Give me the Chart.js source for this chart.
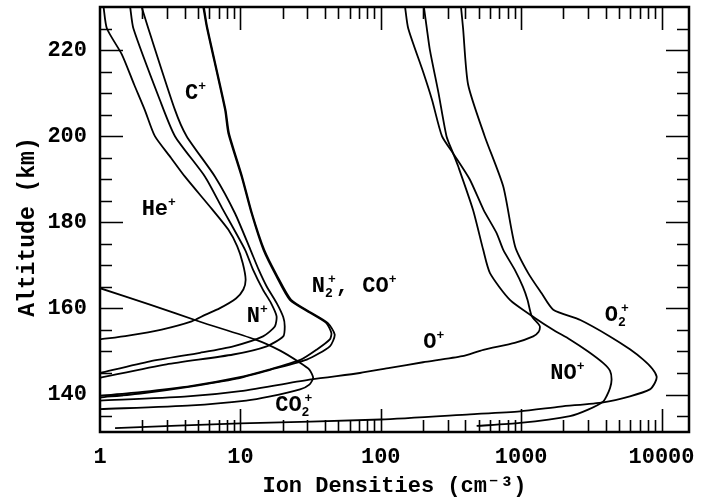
<!DOCTYPE html>
<html>
<head>
<meta charset="utf-8">
<script src="https://cdn.jsdelivr.net/npm/chart.js@4.4.0/dist/chart.umd.min.js"></script>
<style>
  html, body { margin: 0; padding: 0; background: #fff; }
</style>
</head>
<body>
<canvas id="chart" width="711" height="502"></canvas>
<script>
// Ion density profiles, altitude (km) vs density (cm^-3)
const heAlt  = [230, 225, 219, 212, 206, 200, 195, 190.6, 183, 178.3, 174.4, 170.5, 166.7, 164.4, 162.3, 160, 158.5, 157, 155.1, 153.7, 152.8];
const heDen  = [1.06, 1.12, 1.43, 1.75, 2.09, 2.46, 3.2, 4.03, 6.3, 8.2, 9.5, 10.4, 10.9, 10.5, 9.3, 7.1, 5.6, 4.5, 2.75, 1.59, 1.0];

const nAlt   = [230, 225, 208.4, 200, 190.6, 183, 173.6, 169, 164.3, 161.3, 158.2, 155.8, 153.5, 151.2, 149.7, 147.7, 145];
const nDen   = [1.64, 1.73, 2.67, 3.42, 5.6, 7.5, 10.8, 12.3, 14.5, 16.5, 18.1, 17.6, 14.5, 8.9, 5.16, 2.27, 1.0];

const cAlt   = [230, 225, 206.1, 200, 190.6, 182.1, 173.6, 169, 165.1, 161.3, 158, 155.8, 153.5, 151.2, 149.3, 147, 143.9];
const cDen   = [1.98, 2.21, 3.42, 4.14, 6.6, 9.15, 11.8, 13.5, 15.4, 18.1, 20.2, 20.7, 20.2, 15.4, 8.9, 2.98, 1.0];

const n2Alt  = [230, 225.4, 206.1, 200.7, 190.6, 182.1, 173.6, 167.4, 162, 159, 156.6, 154.3, 152.8, 150.4, 148.1, 145.8, 143.9, 142, 140.6, 139.7];
const n2Den  = [5.44, 5.75, 7.77, 8.2, 10.2, 12.0, 14.6, 18.1, 22.5, 31.3, 41, 44.5, 43.4, 34.9, 27, 16, 9.5, 4.5, 2.0, 1.0];

const coAlt  = [230, 225.4, 206.1, 200.7, 190.6, 182.1, 173.6, 167.4, 162, 159, 156.6, 153.9, 151.2, 148.1, 145.8, 143.7, 141.8, 140.3, 139.3];
const coDen  = [5.5, 5.8, 7.85, 8.3, 10.3, 12.1, 14.8, 18.4, 23, 32, 42, 47, 43.4, 29.7, 16.5, 9.4, 4.3, 2.0, 1.0];

const oAlt   = [230, 225, 215, 208.4, 200, 196, 190, 182.9, 177.5, 173.6, 169, 165, 162, 158.2, 156.5, 155.8, 154.5, 153.5, 152, 150.4, 148.9, 147.5, 146.2, 145, 143.5, 140.8, 139.5, 138.6];
const oDen   = [149, 157, 200, 232, 273, 328, 430, 540, 669, 746, 900, 1030, 1110, 1190, 1320, 1361, 1330, 1219, 900, 538, 380, 200, 116, 71, 32, 10, 4, 1];

const noAlt  = [230, 225, 220, 210, 200, 196, 193, 182.9, 173.6, 168.2, 162, 157.8, 155, 152.8, 150, 147.3, 145.5, 143.5, 141.5, 139.6, 138.4, 136.5, 135, 133.4, 132.7];
const noDen  = [203, 213, 224, 258, 294, 328, 356, 454, 537, 600, 832, 1254, 1700, 2225, 3000, 3850, 4300, 4410, 4300, 4060, 3850, 3000, 2225, 981, 482];

const o2Alt  = [230, 225, 212, 200, 188.3, 174.4, 168.2, 163.5, 159.7, 157.3, 153.5, 150.5, 148.1, 146, 144.2, 142.8, 141.2, 139.6, 138.2, 137.2, 136.1, 135.4, 134.2, 133.3, 132.2];
const o2Den  = [373, 386, 419, 550, 746, 906, 1123, 1400, 1694, 2640, 4290, 5960, 7410, 8600, 9230, 9000, 8270, 5960, 3850, 1900, 981, 432, 100, 10, 1.28];

const co2Alt = [164.7, 160.9, 156.9, 152.8, 150.2, 147.4, 145.8, 143.9, 142.3, 141.2, 139.5, 138.6, 137.5, 136.6];
const co2Den = [1.0, 2.27, 5.16, 12.7, 19.2, 26.6, 31, 33, 31, 26.6, 16, 11, 4.5, 1.0];

// axis ticks
const xTicks = [1, 10, 100, 1000, 10000];
const yTicks = [140, 160, 180, 200, 220];

// species labels placed in data coordinates (density, altitude)
const ionLabels = [
    { text: 'C^+',         x: 4.03, y: 208.6 },
    { text: 'He^+',        x: 1.98, y: 181.6 },
    { text: 'N^+',         x: 11.1, y: 156.8 },
    { text: 'N_2^+, CO^+', x: 32.3, y: 163.8 },
    { text: 'O^+',         x: 201,  y: 150.8 },
    { text: 'NO^+',        x: 1612, y: 143.6 },
    { text: 'O_2^+',       x: 3940, y: 157.0 },
    { text: 'CO_2^+',      x: 17.7, y: 136.2 }
];

const FONT = "'Liberation Mono', 'DejaVu Sans Mono', monospace";

function profile(alt, den) {
    return alt.map((a, i) => ({ x: den[i], y: a }));
}

function line(alt, den) {
    return {
        data: profile(alt, den),
        showLine: true,
        borderColor: '#000',
        borderWidth: 1.8,
        pointRadius: 0,
        tension: 0.22,
        fill: false
    };
}

// draw text with ^x superscripts and _x subscripts
function drawRich(ctx, str, x, y) {
    let cx = x, subStart = null;
    for (let i = 0; i < str.length; i++) {
        const ch = str[i];
        if (ch === '^' || ch === '_') {
            const c = str[++i];
            ctx.font = 'bold 13px ' + FONT;
            if (ch === '_') {
                subStart = cx;
                ctx.fillText(c, cx, y + 5);
                cx += ctx.measureText(c).width;
            } else {
                const sx = subStart !== null ? subStart + 3 : cx;
                ctx.fillText(c, sx, y - 9);
                cx = Math.max(cx, sx + ctx.measureText(c).width);
                subStart = null;
            }
        } else {
            subStart = null;
            ctx.font = 'bold 22px ' + FONT;
            ctx.fillText(ch, cx, y);
            cx += ctx.measureText(ch).width;
        }
    }
}

const frameTicks = {
    id: 'frameTicks',
    afterDatasetsDraw(chart) {
        const { ctx, chartArea: a, scales: { x, y } } = chart;
        ctx.save();
        ctx.strokeStyle = '#000';
        ctx.lineWidth = 1.6;
        ctx.beginPath();
        for (let d = 0; d <= 4; d++) {
            for (let k = 1; k <= 9; k++) {
                const v = k * Math.pow(10, d);
                if (v <= x.min || v >= x.max) continue;
                const px = Math.round(x.getPixelForValue(v)) + 0.5;
                const len = k === 1 ? 23 : 12;
                ctx.moveTo(px, a.bottom); ctx.lineTo(px, a.bottom - len);
                ctx.moveTo(px, a.top);    ctx.lineTo(px, a.top + len);
            }
        }
        for (let v = 135; v <= 225; v += 5) {
            const py = Math.round(y.getPixelForValue(v)) + 0.5;
            const len = v % 20 === 0 ? 23 : 12;
            ctx.moveTo(a.left, py);  ctx.lineTo(a.left + len, py);
            ctx.moveTo(a.right, py); ctx.lineTo(a.right - len, py);
        }
        ctx.stroke();
        ctx.lineWidth = 2.5;
        ctx.strokeRect(a.left, a.top, a.right - a.left, a.bottom - a.top);

        ctx.fillStyle = '#000';
        ctx.textBaseline = 'alphabetic';
        ctx.textAlign = 'left';
        ionLabels.forEach(l => {
            drawRich(ctx, l.text, x.getPixelForValue(l.x), y.getPixelForValue(l.y));
        });

        // y axis title, a little larger and lower than the scale title would sit
        ctx.translate(28, 227);
        ctx.rotate(-Math.PI / 2);
        ctx.textAlign = 'center';
        ctx.textBaseline = 'middle';
        ctx.font = 'bold 23px ' + FONT;
        ctx.fillText('Altitude (km)', 0, 0);
        ctx.restore();
    }
};

// keep the plot box where the reference has it
function noEdgePadding(s) {
    s.paddingTop = 0;
    s.paddingBottom = 0;
    s.paddingLeft = 0;
    s.paddingRight = 0;
}

new Chart(document.getElementById('chart'), {
    type: 'scatter',
    data: {
        datasets: [
            line(heAlt, heDen),
            line(nAlt, nDen),
            line(cAlt, cDen),
            line(n2Alt, n2Den),
            line(coAlt, coDen),
            line(oAlt, oDen),
            line(noAlt, noDen),
            line(o2Alt, o2Den),
            line(co2Alt, co2Den)
        ]
    },
    options: {
        responsive: false,
        animation: false,
        devicePixelRatio: 1,
        layout: { padding: { top: 7, right: 22, left: 0, bottom: 0 } },
        plugins: { legend: { display: false }, tooltip: { enabled: false } },
        scales: {
            x: {
                type: 'logarithmic',
                min: 1,
                max: 15700,
                grid: { display: false, drawTicks: false },
                border: { display: false },
                afterBuildTicks: s => { s.ticks = xTicks.map(v => ({ value: v })); },
                afterFit: s => { s.height = 70; noEdgePadding(s); },
                ticks: {
                    color: '#000',
                    font: { family: FONT, size: 22, weight: 'bold' },
                    padding: 12,
                    autoSkip: false,
                    maxRotation: 0,
                    callback: v => String(v)
                },
                title: {
                    display: true,
                    text: 'Ion Densities (cm\u207B\u00B3)',
                    color: '#000',
                    font: { family: FONT, size: 22, weight: 'bold' },
                    padding: { top: 0, bottom: 2 }
                }
            },
            y: {
                type: 'linear',
                min: 131.3,
                max: 230,
                grid: { display: false, drawTicks: false },
                border: { display: false },
                afterBuildTicks: s => { s.ticks = yTicks.map(v => ({ value: v })); },
                afterFit: s => { s.width = 100; noEdgePadding(s); },
                ticks: {
                    color: '#000',
                    font: { family: FONT, size: 22, weight: 'bold' },
                    padding: 13,
                    autoSkip: false,
                    callback: v => String(v)
                },
                title: { display: false }
            }
        }
    },
    plugins: [frameTicks]
});
</script>
</body>
</html>
